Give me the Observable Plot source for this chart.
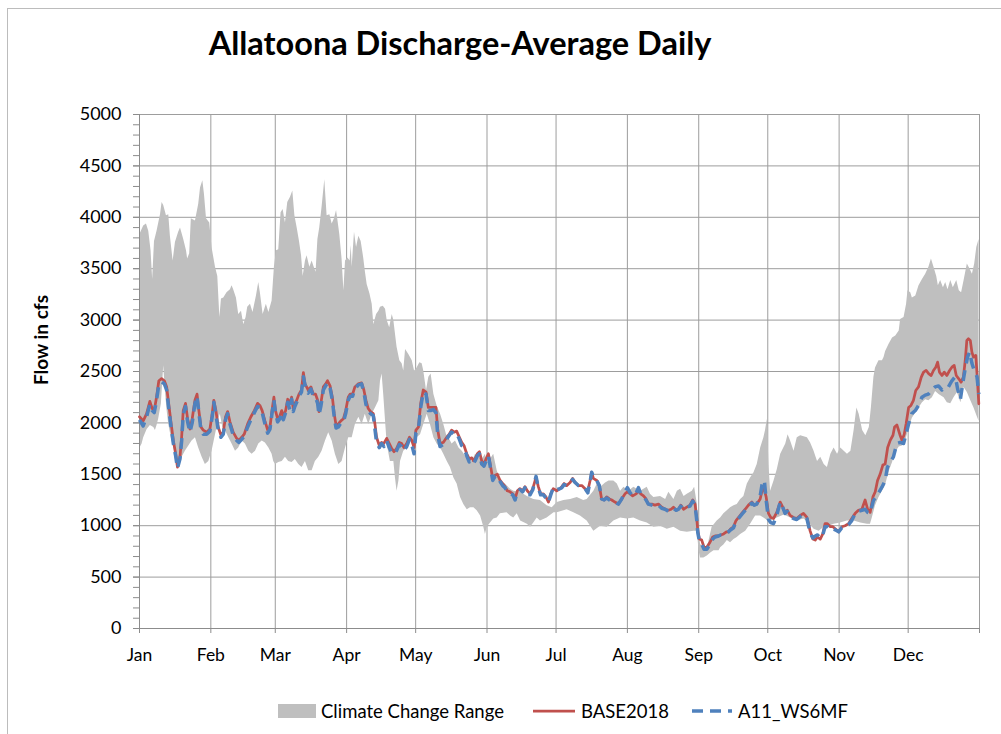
<!DOCTYPE html>
<html>
<head>
<meta charset="utf-8">
<script src="https://cdn.jsdelivr.net/npm/d3@7"></script>
<script src="https://cdn.jsdelivr.net/npm/@observablehq/plot@0.6"></script>
<style>
  html, body { margin: 0; padding: 0; background: #fff; }
  body { width: 1001px; height: 734px; position: relative; overflow: hidden; font-family: Lato, "Open Sans", sans-serif; color: #000; }
  #frame { position: absolute; left: 7px; top: 8px; width: 1100px; height: 800px; border-left: 1.5px solid #bcbcbc; border-top: 1.5px solid #bcbcbc; }
  #title { position: absolute; left: 0; top: 27px; width: 920px; text-align: center; font-weight: 700; font-size: 32.5px; line-height: 1; }
  #ylabel { position: absolute; left: 40px; top: 340px; transform: translate(-50%, -50%) rotate(-90deg); font-weight: 700; font-size: 19px; white-space: nowrap; }
  #chart { position: absolute; left: 0; top: 96px; }
  .leg { position: absolute; top: 700px; font-size: 18.5px; line-height: 22px; white-space: nowrap; }
  .leg svg { position: absolute; }
</style>
</head>
<body>
<div id="frame"></div>
<div id="title">Allatoona Discharge-Average Daily</div>
<div id="ylabel">Flow in cfs</div>
<div id="chart"></div>
<div id="legend"></div>
<script>
// Daily discharge at Allatoona, cfs. Pairs are [day of year (0 = Jan 1), flow].
const rangeHigh = [
  [0,3840],[1.6,3920],[2.8,3940],[3.8,3870],[4.8,3680],[5.5,3400],[6.3,3770],[7.4,3870],[8.9,4030],[9.6,4150],
  [10.3,4120],[11.5,4020],[12.5,4030],[13.2,3820],[14.4,3580],[15.4,3760],[16.8,3860],[17.6,3900],[19.0,3790],[20.2,3680],
  [20.7,3600],[21.6,3650],[22.3,3990],[24.1,3970],[25.5,4130],[26.3,4290],[27.3,4360],[28.0,4230],[28.9,3990],[30.3,3950],
  [31.3,3710],[32.8,3520],[33.8,3430],[34.7,3030],[35.4,3210],[36.4,3220],[37.8,3270],[39.3,3300],[40.0,3340],[40.7,3300],
  [41.9,3220],[42.9,3060],[44.1,3090],[45.1,2960],[46.1,3030],[46.8,3130],[48.0,3160],[49.1,3080],[50.6,3240],[51.6,3370],
  [52.3,3270],[53.5,3060],[54.9,3160],[56.0,3080],[57.4,3190],[58.4,3520],[59.3,3680],[60.3,3690],[61.3,4050],[62.2,4080],
  [63.2,3950],[64.2,4150],[65.4,4200],[66.4,4260],[67.3,4020],[68.3,3900],[69.3,3770],[70.2,3630],[70.9,3430],[71.9,3580],
  [72.6,3630],[73.8,3520],[74.8,3580],[75.5,3530],[76.5,3470],[77.3,3790],[78.1,3900],[79.1,4100],[80.3,4370],[81.3,4020],
  [82.5,4030],[83.5,3940],[84.5,3990],[85.4,4070],[85.9,3990],[86.8,3840],[87.8,3600],[88.6,3290],[89.3,3580],[90.3,3610],
  [91.3,3580],[91.8,3730],[92.2,3520],[93.2,3860],[94.1,3710],[95.1,3820],[96.1,3770],[97.2,3610],[97.9,3480],[98.7,3350],
  [99.9,3260],[100.9,3160],[101.6,2960],[102.8,3060],[103.8,3090],[104.5,3130],[105.7,3140],[106.7,3110],[107.4,3000],[108.5,2930],
  [109.6,3060],[110.3,3000],[111.0,2870],[111.7,2740],[112.9,2610],[113.9,2580],[114.6,2510],[115.4,2720],[116.8,2670],[118.3,2610],
  [119.3,2510],[120.4,2540],[121.6,2590],[122.6,2580],[123.3,2510],[124.5,2320],[125.5,2450],[126.5,2480],[127.7,2280],[129.1,2170],
  [130.6,2090],[132.0,1990],[133.2,1890],[134.2,1860],[135.6,1800],[137.1,1830],[138.6,1760],[140.0,1730],[141.5,1680],[142.9,1680],
  [144.4,1630],[145.8,1700],[147.2,1670],[148.7,1650],[150.1,1700],[150.9,1600],[153.7,1700],[155.2,1540],[156.6,1440],[158.8,1410],
  [161.0,1360],[162.4,1340],[165.4,1330],[168.3,1290],[171.1,1260],[174.0,1250],[176.9,1200],[179.1,1180],[181.3,1230],[184.2,1250],
  [187.1,1260],[190.0,1280],[192.8,1250],[194.3,1260],[197.2,1340],[198.7,1410],[200.2,1380],[202.3,1420],[203.8,1440],[205.9,1440],
  [207.4,1410],[208.8,1340],[210.3,1380],[212.4,1340],[214.6,1380],[217.5,1340],[220.4,1380],[221.8,1310],[223.3,1280],[226.2,1290],
  [228.4,1260],[229.8,1330],[232.0,1260],[233.5,1340],[234.9,1360],[236.4,1290],[237.8,1310],[240.0,1340],[241.0,1380],[242.2,1210],
  [242.9,920],[243.6,820],[246.5,780],[248.6,990],[250.8,1050],[252.3,1080],[253.7,1120],[255.2,1150],[256.6,1180],[258.1,1200],
  [259.5,1210],[261.0,1260],[262.4,1290],[263.9,1410],[265.3,1470],[266.8,1520],[268.2,1600],[269.7,1760],[271.1,1860],[271.8,1930],
  [272.6,2040],[273.3,1600],[274.0,1340],[275.5,1440],[276.9,1550],[278.4,1700],[280.6,1800],[281.6,1890],[282.7,1830],[284.2,1730],
  [285.6,1860],[287.1,1880],[290.0,1860],[291.4,1810],[292.9,1730],[294.4,1630],[295.8,1670],[297.3,1600],[298.7,1570],[300.2,1700],
  [301.6,1760],[303.1,1700],[304.5,1760],[306.0,1730],[307.4,1700],[308.9,1730],[310.3,1930],[311.5,2150],[312.5,2090],[314.0,1930],
  [315.4,1880],[316.9,1960],[317.8,2150],[318.9,2450],[319.6,2540],[321.1,2610],[322.6,2610],[323.3,2640],[324.0,2700],[325.5,2770],
  [327.0,2830],[328.4,2850],[329.9,2900],[330.5,3010],[332.0,3030],[333.1,3160],[333.7,3290],[334.9,3270],[335.6,3220],[337.1,3240],
  [338.5,3340],[340.0,3400],[341.4,3450],[342.8,3520],[343.9,3600],[345.0,3520],[346.2,3430],[346.9,3340],[347.9,3390],[349.1,3320],
  [350.1,3370],[351.1,3300],[352.3,3390],[353.4,3320],[354.9,3390],[356.0,3290],[357.0,3270],[358.1,3390],[359.5,3550],[360.7,3500],
  [361.7,3450],[362.7,3550],[363.6,3710],[364.6,3790]
];

const rangeLow = [
  [0,1760],[0.9,1800],[1.6,1860],[3.1,1940],[4.5,1980],[6.0,1960],[6.7,1930],[7.4,1980],[8.1,2040],[9.3,2190],
  [10.3,2560],[11.0,2320],[11.8,2120],[12.5,1990],[13.9,1830],[15.4,1700],[16.8,1630],[18.3,1670],[19.7,1730],[21.2,1780],
  [22.6,1830],[24.1,1860],[25.5,1760],[27.0,1670],[28.4,1600],[29.9,1630],[31.3,1730],[32.8,1890],[34.2,2040],[34.9,2090],
  [36.0,1960],[37.1,1930],[38.6,1860],[40.0,1800],[41.5,1730],[42.9,1760],[44.4,1830],[45.8,1800],[47.3,1730],[48.7,1700],
  [50.2,1730],[51.6,1800],[53.1,1830],[54.5,1810],[56.0,1760],[57.4,1700],[58.1,1630],[58.9,1600],[60.3,1620],[61.8,1630],
  [63.2,1670],[64.6,1630],[66.1,1620],[67.5,1650],[69.0,1600],[70.4,1570],[71.9,1630],[73.3,1540],[74.8,1540],[76.2,1630],
  [77.7,1670],[79.1,1730],[80.6,1830],[82.0,1910],[83.5,1830],[84.9,1700],[86.4,1600],[87.8,1630],[89.3,1760],[90.7,1860],
  [92.2,1860],[93.6,1990],[95.1,2060],[96.5,1990],[97.9,2090],[99.4,1990],[100.9,2090],[102.3,2150],[103.8,2220],[104.5,2410],
  [105.2,2480],[105.9,2280],[106.7,2020],[107.4,1800],[108.8,1630],[110.3,1630],[111.0,1470],[111.7,1340],[112.5,1440],[113.2,1630],
  [114.6,1730],[116.1,1760],[117.5,1830],[119.0,1800],[120.4,1860],[121.9,1890],[123.3,1990],[124.8,2090],[126.2,1990],[127.7,1860],
  [129.1,1800],[130.6,1760],[132.0,1700],[133.5,1630],[134.9,1570],[136.4,1470],[137.8,1410],[139.3,1280],[140.7,1210],[142.2,1160],
  [143.6,1180],[145.1,1180],[146.5,1150],[148.0,1100],[149.4,990],[150.1,920],[150.9,990],[152.3,1030],[153.7,1070],[155.2,1080],
  [156.6,1120],[159.5,1130],[161.0,1100],[162.4,1080],[163.9,1120],[165.4,1050],[168.3,1020],[169.7,990],[171.1,1030],[172.6,1080],
  [174.0,1050],[176.9,1080],[179.9,1130],[181.3,1130],[185.6,1160],[188.5,1130],[191.4,1100],[194.3,1050],[197.2,950],[200.1,1000],
  [203.0,990],[205.9,1050],[208.8,1080],[211.7,1070],[214.6,1080],[217.5,1050],[220.4,1030],[223.3,990],[226.2,1000],[229.1,970],
  [232.0,990],[234.9,950],[237.8,940],[240.7,950],[242.2,950],[242.9,760],[243.6,690],[245.0,690],[246.5,710],[248.0,740],
  [249.4,760],[251.6,760],[252.3,790],[253.8,820],[255.2,860],[256.6,840],[258.1,870],[259.5,890],[261.0,920],[263.2,950],
  [265.3,1020],[267.5,1100],[269.7,1100],[271.1,1080],[273.0,1050],[274.0,1050],[276.9,1080],[280.0,1110],[282.7,1080],[285.6,1050],
  [288.5,1070],[290.7,1030],[292.9,970],[295.1,950],[297.3,990],[299.4,1000],[301.6,1020],[304.4,1030],[307.3,1050],[310.3,1050],
  [313.2,1030],[316.1,1020],[317.4,1020],[318.2,1080],[319.6,1200],[321.1,1280],[322.6,1340],[324.0,1400],[325.5,1530],[327.0,1620],
  [328.4,1720],[329.9,1770],[331.3,1780],[332.8,1840],[334.2,1950],[335.6,2050],[337.1,2100],[338.5,2150],[340.0,2200],[341.4,2230],
  [342.8,2220],[344.3,2250],[345.7,2310],[347.2,2280],[349.4,2250],[350.8,2200],[352.3,2190],[353.7,2250],[355.2,2300],[356.7,2200],
  [358.1,2350],[359.5,2300],[361.0,2220],[362.4,2150],[363.9,2060],[364.6,2020]
];

const base2018 = [
  [0,2060],[1.6,2020],[3.1,2090],[4.5,2210],[5.5,2140],[6.4,2120],[7.4,2250],[8.4,2410],[9.6,2430],[10.8,2410],
  [11.8,2350],[12.5,2220],[13.6,2020],[14.7,1830],[15.7,1700],[16.5,1570],[17.6,1670],[18.3,1860],[19.0,2120],[20.0,2190],
  [20.9,2040],[21.9,1940],[22.9,2040],[24.1,2220],[25.0,2280],[25.8,2120],[26.7,1960],[27.7,1930],[29.2,1910],[30.6,1940],
  [31.6,2090],[32.3,2220],[33.2,2120],[34.2,1960],[35.4,1880],[36.4,1910],[37.4,2060],[38.3,2110],[39.3,2010],[40.7,1910],
  [42.2,1850],[43.2,1830],[44.4,1860],[45.5,1890],[47.0,1990],[48.4,2060],[49.9,2120],[51.3,2190],[52.3,2170],[53.3,2120],
  [54.5,2020],[55.7,1930],[56.7,1960],[57.7,2140],[58.4,2250],[59.1,2120],[60.0,2040],[61.0,2070],[61.8,2120],[62.5,2060],
  [63.5,2120],[64.4,2230],[65.4,2190],[66.1,2250],[66.8,2140],[67.5,2190],[68.3,2220],[69.3,2280],[70.4,2320],[71.2,2490],
  [71.9,2380],[72.6,2350],[73.3,2320],[74.5,2350],[75.5,2280],[76.5,2280],[77.4,2220],[78.0,2110],[78.8,2190],[79.9,2350],
  [80.9,2380],[81.7,2410],[82.8,2360],[83.8,2250],[84.6,2090],[85.4,1980],[86.4,1990],[87.5,2020],[88.6,2040],[89.6,2120],
  [90.7,2250],[91.5,2280],[92.6,2280],[93.6,2350],[95.1,2380],[96.5,2390],[97.5,2320],[98.4,2220],[99.4,2140],[100.4,2110],
  [101.6,2090],[102.3,1990],[103.0,1860],[104.2,1780],[105.2,1810],[106.2,1800],[107.4,1850],[108.5,1800],[109.6,1750],[110.6,1720],
  [111.7,1750],[112.9,1810],[113.9,1800],[114.9,1760],[116.1,1800],[117.3,1860],[118.3,1830],[119.3,1760],[120.1,1930],[121.2,1960],
  [122.2,2190],[123.3,2320],[124.5,2300],[125.5,2150],[126.5,2150],[127.7,2150],[128.8,2150],[129.6,1930],[130.6,1800],[132.0,1810],
  [133.5,1860],[134.6,1890],[135.6,1930],[136.7,1910],[137.8,1920],[139.0,1860],[140.0,1810],[141.0,1780],[142.2,1700],[143.3,1650],
  [144.4,1660],[145.1,1630],[145.8,1650],[146.8,1700],[147.7,1720],[148.7,1630],[149.7,1600],[150.6,1650],[151.6,1700],[152.6,1570],
  [153.5,1460],[154.5,1490],[155.5,1500],[156.7,1440],[157.8,1410],[158.8,1380],[159.8,1340],[161.0,1330],[162.2,1310],[163.2,1260],
  [164.2,1340],[165.3,1360],[166.5,1340],[167.5,1380],[168.5,1340],[169.7,1310],[170.9,1360],[172.3,1470],[173.3,1380],[174.3,1310],
  [175.5,1310],[176.6,1280],[177.7,1230],[178.7,1310],[179.8,1360],[181.3,1340],[182.7,1360],[183.5,1380],[184.5,1410],[185.6,1390],
  [187.1,1420],[188.2,1460],[189.3,1420],[190.7,1390],[192.2,1390],[193.6,1360],[194.8,1340],[195.8,1440],[196.5,1520],[197.2,1460],
  [198.7,1440],[199.8,1390],[200.8,1260],[201.9,1250],[203.0,1280],[204.2,1260],[205.2,1250],[206.6,1230],[208.1,1210],[209.5,1260],
  [211.0,1310],[212.0,1330],[213.2,1310],[214.3,1290],[215.8,1310],[216.8,1340],[217.8,1310],[219.0,1290],[220.1,1260],[221.1,1210],
  [222.6,1210],[224.0,1200],[225.5,1210],[226.9,1180],[228.4,1160],[229.8,1150],[231.0,1160],[232.0,1180],[233.2,1150],[234.2,1160],
  [235.2,1200],[236.4,1160],[237.8,1180],[239.2,1200],[240.4,1250],[241.4,1210],[242.1,1080],[242.6,950],[243.3,870],[244.3,860],
  [245.3,790],[246.5,790],[247.9,840],[249.1,890],[250.1,900],[251.6,900],[252.6,910],[253.8,920],[255.0,940],[255.9,940],
  [256.9,970],[258.1,990],[259.2,1050],[260.3,1080],[261.7,1120],[263.2,1160],[264.6,1200],[266.1,1230],[267.1,1200],[268.2,1210],
  [269.7,1260],[270.8,1370],[271.6,1340],[272.3,1280],[273.3,1120],[274.3,1080],[275.5,1070],[276.9,1130],[278.4,1230],[279.5,1180],
  [280.5,1130],[281.5,1150],[282.7,1100],[284.2,1080],[285.6,1070],[287.1,1100],[288.5,1120],[290.0,1080],[291.4,950],[292.6,870],
  [293.6,860],[294.6,890],[295.8,870],[296.9,920],[297.9,1020],[298.9,1020],[300.2,990],[301.3,990],[302.3,970],[303.8,940],
  [305.2,990],[306.6,1000],[308.1,1020],[309.5,1070],[311.0,1120],[312.4,1150],[313.9,1160],[315.3,1250],[316.4,1160],[317.5,1130],
  [318.7,1280],[319.7,1330],[320.7,1440],[321.8,1500],[323.0,1590],[324.0,1600],[325.1,1760],[326.2,1830],[327.4,1880],[328.1,1960],
  [329.1,1980],[330.5,1880],[331.3,1830],[332.3,1890],[333.1,1990],[334.2,2150],[335.2,2170],[336.3,2220],[337.3,2315],[338.5,2350],
  [339.7,2445],[340.7,2494],[341.8,2510],[343.0,2477],[344.0,2461],[345.0,2510],[346.0,2542],[346.8,2591],[347.6,2494],[348.7,2461],
  [349.7,2494],[350.8,2461],[352.0,2510],[353.0,2542],[354.0,2559],[354.9,2461],[356.0,2429],[357.0,2396],[358.0,2445],[358.8,2607],
  [359.5,2802],[360.2,2818],[361.0,2802],[361.7,2688],[362.4,2639],[363.4,2656],[364.1,2413],[364.7,2186]
];

const a11Ws6mf = [
  [0,2030],[1.6,1970],[3.1,2060],[4.5,2180],[5.5,2120],[6.4,2100],[7.4,2220],[8.4,2370],[9.6,2400],[10.8,2380],
  [11.8,2320],[12.5,2180],[13.6,1980],[14.7,1800],[15.7,1680],[16.5,1560],[17.6,1650],[18.3,1820],[19.0,2080],[20.0,2160],
  [20.9,2010],[21.9,1910],[22.9,2000],[24.1,2190],[25.0,2260],[25.8,2100],[26.7,1930],[27.7,1890],[29.2,1890],[30.6,1920],
  [31.6,2060],[32.3,2200],[33.2,2080],[34.2,1930],[35.4,1860],[36.4,1890],[37.4,2030],[38.3,2090],[39.3,1990],[40.7,1880],
  [42.2,1830],[43.2,1810],[44.4,1840],[45.5,1870],[47.0,1960],[48.4,2030],[49.9,2100],[51.3,2160],[52.3,2150],[53.3,2100],
  [54.5,1990],[55.7,1900],[56.7,1940],[57.7,2110],[58.4,2220],[59.1,2100],[60.0,2010],[61.0,2040],[61.8,2100],[62.5,2030],
  [63.5,2100],[64.4,2200],[65.4,2120],[66.1,2230],[66.8,2110],[67.5,2160],[68.3,2200],[69.3,2260],[70.4,2300],[71.2,2450],
  [71.9,2370],[72.6,2320],[73.3,2290],[74.5,2330],[75.5,2260],[76.5,2250],[77.4,2190],[78.0,2080],[78.8,2160],[79.9,2320],
  [80.9,2360],[81.7,2390],[82.8,2340],[83.8,2220],[84.6,2060],[85.4,1950],[86.4,1960],[87.5,2000],[88.6,2010],[89.6,2090],
  [90.7,2220],[91.5,2260],[92.6,2260],[93.6,2330],[95.1,2370],[96.5,2380],[97.5,2300],[98.4,2180],[99.4,2120],[100.4,2090],
  [101.6,2070],[102.3,1940],[103.0,1810],[104.2,1760],[105.2,1800],[106.2,1770],[107.4,1830],[108.5,1760],[109.6,1710],[110.6,1700],
  [111.7,1730],[112.9,1790],[113.9,1770],[114.9,1730],[116.1,1770],[117.3,1840],[118.3,1790],[119.3,1700],[120.1,1900],[121.2,1940],
  [122.2,2150],[123.3,2300],[124.5,2280],[125.5,2120],[126.5,2120],[127.7,2130],[128.8,2100],[129.6,1880],[130.6,1770],[132.0,1790],
  [133.5,1840],[134.6,1880],[135.6,1910],[136.7,1890],[137.8,1900],[139.0,1840],[140.0,1780],[141.0,1760],[142.2,1680],[143.3,1620],
  [144.4,1640],[145.1,1610],[145.8,1630],[146.8,1680],[147.7,1700],[148.7,1600],[149.7,1580],[150.6,1630],[151.6,1680],[152.6,1550],
  [153.5,1440],[154.5,1480],[155.5,1480],[156.7,1430],[157.8,1390],[158.8,1370],[159.8,1330],[161.0,1310],[162.2,1300],[163.2,1250],
  [164.2,1330],[165.3,1350],[166.5,1330],[167.5,1370],[168.5,1300],[169.7,1300],[170.9,1350],[172.3,1480],[173.3,1370],[174.3,1300],
  [175.5,1300],[176.6,1270],[177.7,1230],[178.7,1300],[179.8,1370],[181.3,1350],[182.7,1360],[183.5,1370],[184.5,1400],[185.6,1390],
  [187.1,1420],[188.2,1450],[189.3,1420],[190.7,1390],[192.2,1380],[193.6,1360],[194.8,1320],[195.8,1430],[196.5,1520],[197.2,1470],
  [198.7,1440],[199.8,1390],[200.8,1260],[201.9,1250],[203.0,1270],[204.2,1250],[205.2,1240],[206.6,1230],[208.1,1210],[209.5,1260],
  [211.0,1330],[212.0,1370],[213.2,1320],[214.3,1290],[215.8,1320],[216.8,1370],[217.8,1310],[219.0,1280],[220.1,1250],[221.1,1210],
  [222.6,1200],[224.0,1190],[225.5,1200],[226.9,1170],[228.4,1160],[229.8,1140],[231.0,1150],[232.0,1170],[233.2,1150],[234.2,1160],
  [235.2,1190],[236.4,1160],[237.8,1180],[239.2,1190],[240.4,1240],[241.4,1200],[242.1,1060],[242.6,930],[243.3,850],[244.3,820],
  [245.3,770],[246.5,770],[247.9,820],[249.1,870],[250.1,890],[251.6,900],[252.6,910],[253.8,910],[255.0,930],[255.9,940],
  [256.9,960],[258.1,980],[259.2,1040],[260.3,1070],[261.7,1110],[263.2,1150],[264.6,1190],[266.1,1220],[267.1,1200],[268.2,1210],
  [269.7,1290],[270.8,1440],[271.6,1420],[272.3,1250],[273.3,1060],[274.3,1030],[275.5,1020],[276.9,1100],[278.4,1230],[279.5,1180],
  [280.5,1120],[281.5,1140],[282.7,1090],[284.2,1070],[285.6,1060],[287.1,1090],[288.5,1110],[290.0,1070],[291.4,930],[292.6,880],
  [293.6,900],[294.6,910],[295.8,880],[296.9,910],[297.9,990],[298.9,990],[300.2,960],[301.3,970],[302.3,960],[303.8,940],
  [305.2,980],[306.6,990],[308.1,1010],[309.5,1050],[311.0,1120],[312.4,1140],[313.9,1150],[315.3,1160],[316.4,1130],[317.5,1120],
  [318.9,1245],[320.4,1290],[322.6,1375],[324.0,1440],[325.0,1570],[326.5,1630],[327.6,1670],[329.1,1800],[330.5,1810],[332.0,1800],
  [333.1,1890],[334.2,1990],[335.6,2090],[337.1,2120],[338.5,2170],[340.0,2250],[341.4,2270],[342.8,2280],[344.3,2320],[345.7,2350],
  [347.2,2360],[348.7,2320],[350.1,2350],[351.5,2350],[353.0,2410],[354.5,2450],[355.5,2330],[356.7,2230],[357.7,2380],[358.8,2530],
  [359.8,2640],[360.7,2690],[361.7,2580],[362.7,2510],[363.9,2450],[364.7,2280]
];

const yTicks = [0, 500, 1000, 1500, 2000, 2500, 3000, 3500, 4000, 4500, 5000];
const monthNames = ["Jan", "Feb", "Mar", "Apr", "May", "Jun", "Jul", "Aug", "Sep", "Oct", "Nov", "Dec"];

const seriesNames = ["Climate Change Range", "BASE2018", "A11_WS6MF"];
const colors = { range: "#bfbfbf", base: "#c0504d", alt: "#4f81bd" };

// day of year -> UTC date in a non-leap year
const t0 = Date.UTC(2018, 0, 1);
const toDate = (d) => new Date(t0 + d * 864e5);
const rows = (pairs) => pairs.map(([d, v]) => ({ date: toDate(d), cfs: v }));

// band outline: upper edge left to right, then lower edge back right to left
const bandOutline = [...rows(rangeHigh), ...rows(rangeLow.slice().reverse())];

const monthStarts = monthNames.map((_, i) => new Date(Date.UTC(2018, i, 1)));
const gridMonths = [...monthStarts, new Date(Date.UTC(2019, 0, 1))];
const minorTicks = d3.range(0, 5001, 100);

const gridColor = "#9d9d9d";
const axisColor = "#8c8c8c";

const chart = Plot.plot({
  width: 1001,
  height: 572,
  marginLeft: 139,
  marginRight: 22,
  marginTop: 18,
  marginBottom: 40,
  style: { fontFamily: "Lato, 'Open Sans', sans-serif", color: "#000", background: "transparent", overflow: "visible" },
  x: { type: "utc", domain: [toDate(0), toDate(365)], label: null },
  y: { domain: [0, 5000], label: null },
  marks: [
    Plot.gridY(yTicks, { stroke: gridColor, strokeOpacity: 1, strokeWidth: 1 }),
    Plot.gridX(gridMonths, { stroke: gridColor, strokeOpacity: 1, strokeWidth: 1 }),
    Plot.line(bandOutline, { x: "date", y: "cfs", fill: colors.range, stroke: "none", curve: "linear" }),
    Plot.ruleY([0], { stroke: axisColor, strokeWidth: 1 }),
    Plot.ruleX([toDate(0)], { stroke: axisColor, strokeWidth: 1 }),
    Plot.axisY(minorTicks, { label: null, tickSize: 6, tickFormat: () => "", stroke: axisColor, strokeOpacity: 1 }),
    Plot.axisY(yTicks, { label: null, tickSize: 6, tickPadding: 12, fontSize: 18, stroke: axisColor, strokeOpacity: 1, fill: "#000", tickFormat: (d) => String(d) }),
    Plot.axisX(gridMonths, { label: null, tickSize: 5, tickFormat: () => "", stroke: axisColor, strokeOpacity: 1 }),
    Plot.axisX(monthStarts, { label: null, tickSize: 0, tickPadding: 20, fontSize: 17.5, fill: "#000", tickFormat: (d) => monthNames[d.getUTCMonth()] }),
    Plot.line(rows(base2018), { x: "date", y: "cfs", stroke: colors.base, strokeWidth: 2.75, curve: "linear", strokeLinejoin: "round" }),
    Plot.line(rows(a11Ws6mf), { x: "date", y: "cfs", stroke: colors.alt, strokeWidth: 3.5, strokeDasharray: "11,7", strokeLinecap: "butt", curve: "linear" })
  ]
});
document.getElementById("chart").appendChild(chart);

// legend below the plot
const legend = document.getElementById("legend");
const items = [
  { left: 278, swatch: `<svg width="38" height="22" style="left:0;top:0"><rect x="0" y="4" width="38" height="14" fill="${colors.range}"/></svg>`, textLeft: 43, label: seriesNames[0] },
  { left: 533, swatch: `<svg width="42" height="22" style="left:0;top:0"><line x1="0" x2="42" y1="11" y2="11" stroke="${colors.base}" stroke-width="2.75"/></svg>`, textLeft: 48, label: seriesNames[1] },
  { left: 690, swatch: `<svg width="42" height="22" style="left:0;top:0"><line x1="2" x2="42" y1="11" y2="11" stroke="${colors.alt}" stroke-width="3.5" stroke-dasharray="11,7"/></svg>`, textLeft: 48, label: seriesNames[2] }
];
for (const it of items) {
  const el = document.createElement("div");
  el.className = "leg";
  el.style.left = it.left + "px";
  el.innerHTML = it.swatch + `<span style="position:absolute;left:${it.textLeft}px;top:0">${it.label}</span>`;
  legend.appendChild(el);
}
</script>
</body>
</html>
